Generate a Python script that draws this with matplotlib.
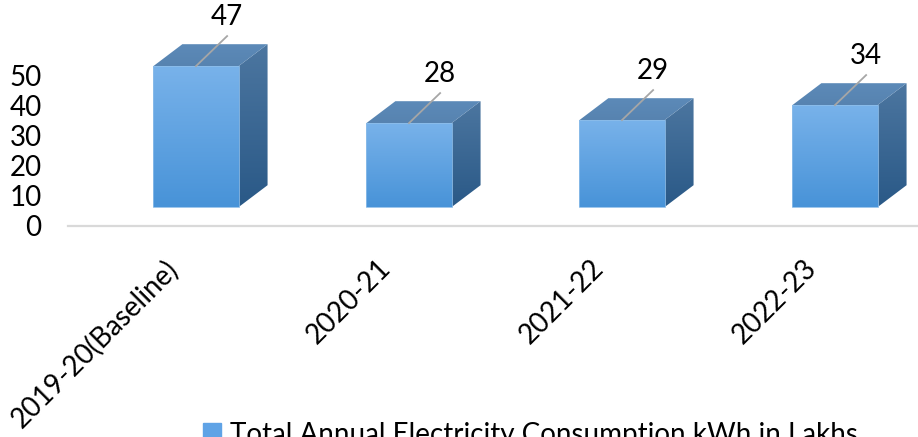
import numpy as np
import matplotlib.pyplot as plt
import matplotlib.transforms as mtransforms
from matplotlib.patches import Polygon, Rectangle
from matplotlib.colors import LinearSegmentedColormap

plt.rcParams['font.family'] = ['Lato', 'DejaVu Sans']

years = ['2019-20(Baseline)', '2020-21', '2021-22', '2022-23']
consumption = [47, 28, 29, 34]
series_name = 'Total Annual Electricity Consumption kWh in Lakhs'
yticks = [0, 10, 20, 30, 40, 50]

# fake 3d look (excel style)
half = 0.2      # half bar width, x units
base = 6.3      # bars float above the floor line
dx, dy = 0.136, 7.3


def grad_fill(ax, verts, c_top, c_bot):
    poly = Polygon(verts, closed=True, facecolor='none', edgecolor='none')
    ax.add_patch(poly)
    xs = [v[0] for v in verts]
    ys = [v[1] for v in verts]
    cmap = LinearSegmentedColormap.from_list('g', [c_bot, c_top])
    im = ax.imshow(np.linspace(0, 1, 100).reshape(-1, 1), cmap=cmap,
                   extent=[min(xs), max(xs), min(ys), max(ys)],
                   origin='lower', aspect='auto', zorder=2,
                   interpolation='bilinear')
    im.set_clip_path(poly)


fig = plt.figure(figsize=(9.18, 4.37), dpi=100)
ax = fig.add_axes([68 / 918, 211 / 437, 850 / 918, 226 / 437])

for i, v in enumerate(consumption):
    top = base + v
    front = [(i - half, base), (i + half, base), (i + half, top), (i - half, top)]
    lid = [(i - half, top), (i + half, top), (i + half + dx, top + dy), (i - half + dx, top + dy)]
    side = [(i + half, base), (i + half + dx, base + dy), (i + half + dx, top + dy), (i + half, top)]
    grad_fill(ax, side, '#4c76a0', '#2a5987')
    grad_fill(ax, lid, '#5c8ab8', '#5783b0')
    grad_fill(ax, front, '#78b2ea', '#4893d8')
    ax.add_patch(Polygon(front, closed=True, fill=False, edgecolor='#8dbde9', lw=0.6, zorder=3))

    # leader line + value label
    ax.plot([i, i + 0.146], [top, top + 10], color='#a6a6a6', lw=1.3, zorder=4)
    ax.text(i + 0.146, top + 13.6, str(v), ha='center', va='baseline', fontsize=20, color='black')

ax.axhline(0, color='#d9d9d9', lw=1.6, clip_on=False, zorder=1)

ax.set_xlim(-(196 - 68) / 213, (918 - 196) / 213)
ax.set_ylim(0, 226 / 3)
ax.set_yticks(yticks)
ax.set_yticklabels([str(t) for t in yticks], fontsize=20)
ax.tick_params(axis='y', length=0, pad=19)
ax.set_xticks([])
for s in ax.spines.values():
    s.set_visible(False)
ax.patch.set_alpha(0)

off = mtransforms.ScaledTranslation(-0.32, -0.29, fig.dpi_scale_trans)
for i, lab in enumerate(years):
    ax.text(i, 0, lab, rotation=45, ha='right', va='top', rotation_mode='anchor',
            fontsize=20, transform=ax.transData + off, clip_on=False)

# legend (cut off at the bottom like the original)
fig.patches.append(Rectangle((203 / 918, (437 - 441) / 437), 18 / 918, 18 / 437,
                             transform=fig.transFigure, color='#5fa3e6'))
fig.text(230 / 918, (437 - 443) / 437, series_name, va='baseline', fontsize=20)

fig.savefig('out.png', dpi=100)
